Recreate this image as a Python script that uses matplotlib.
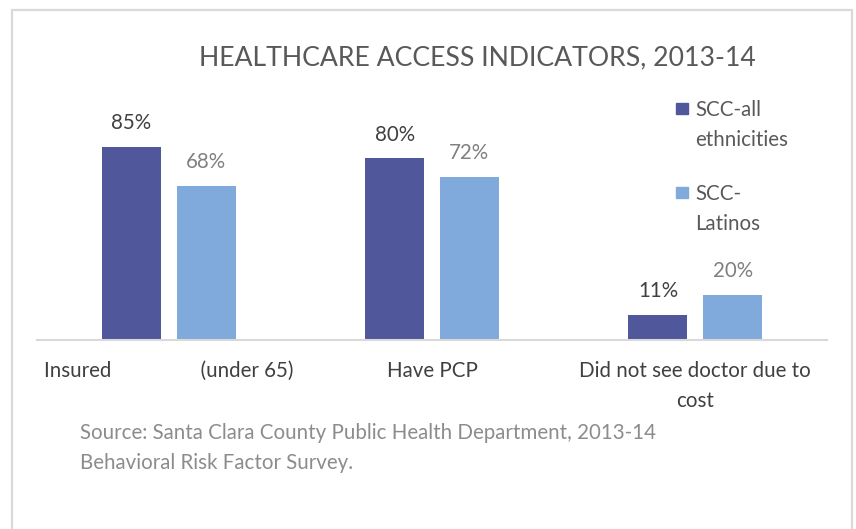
import matplotlib
matplotlib.use("Agg")
import matplotlib.pyplot as plt
from matplotlib.patches import Rectangle
import numpy as np

# ---- data ----
categories = ["Insured (under 65)", "Have PCP", "Did not see doctor due to cost"]
tick_labels = ["Insured                 (under 65)", "Have PCP", "Did not see doctor due to\ncost"]
series_names = ["SCC-all\nethnicities", "SCC-\nLatinos"]
all_ethnicities = [85, 80, 11]
latinos = [68, 72, 20]
title = "HEALTHCARE ACCESS INDICATORS, 2013-14"
source_lines = ["Source: Santa Clara County Public Health Department, 2013-14",
                "Behavioral Risk Factor Survey."]

# ---- style ----
dark = "#50579A"
light = "#80AADC"
FONT = "Lato"
FS = 14.8
W, H = 856, 529

fig = plt.figure(figsize=(W / 100, H / 100), dpi=100)
fig.patch.set_facecolor("white")

# border
fig.patches.append(Rectangle((11.5 / W, -0.05), (852 - 11.5) / W, 1.05 - 10 / H,
                             transform=fig.transFigure, fill=False,
                             edgecolor="#D9D9D9", linewidth=1.6))

ax = fig.add_axes([37 / W, 1 - 340 / H, 790 / W, 227 / H])
x = np.arange(len(categories))
off, bw = 0.142, 0.224
b1 = ax.bar(x - off, all_ethnicities, bw, color=dark)
b2 = ax.bar(x + off, latinos, bw, color=light)
ax.set_xlim(-0.5, 2.5)
ax.set_ylim(0, 100)

for bars, vals, col in [(b1, all_ethnicities, "#404040"), (b2, latinos, "#808080")]:
    for r, v in zip(bars, vals):
        ax.annotate(f"{v}%", (r.get_x() + r.get_width() / 2, v),
                    xytext=(0, 10), textcoords="offset points",
                    ha="center", va="bottom", fontsize=FS, color=col, family=FONT)

for s in ["top", "right", "left"]:
    ax.spines[s].set_visible(False)
ax.spines["bottom"].set_color("#D9D9D9")
ax.spines["bottom"].set_linewidth(1.5)
ax.set_yticks([])
ax.set_xticks(x)
ax.set_xticklabels(tick_labels, fontsize=FS, color="#404040", family=FONT,
                   linespacing=1.62)
ax.tick_params(axis="x", length=0, pad=15)

fig.text(477.5 / W, 1 - 58 / H, title, ha="center", va="center",
         fontsize=19.2, color="#595959", family=FONT)

# legend
for i, (name, col) in enumerate(zip(series_names, [dark, light])):
    ytop = 103 + i * 84
    fig.patches.append(Rectangle((676 / W, 1 - (ytop + 11) / H), 12 / W, 11 / H,
                                 transform=fig.transFigure, color=col))
    fig.text(695 / W, 1 - (ytop - 3) / H, name, ha="left", va="top",
             fontsize=FS, color="#595959", family=FONT, linespacing=1.6)

for i, line in enumerate(source_lines):
    fig.text(80 / W, 1 - (433 + 30 * i) / H, line, ha="left", va="center",
             fontsize=FS, color="#8C8C8C", family=FONT)

fig.savefig("out.png", dpi=100)
